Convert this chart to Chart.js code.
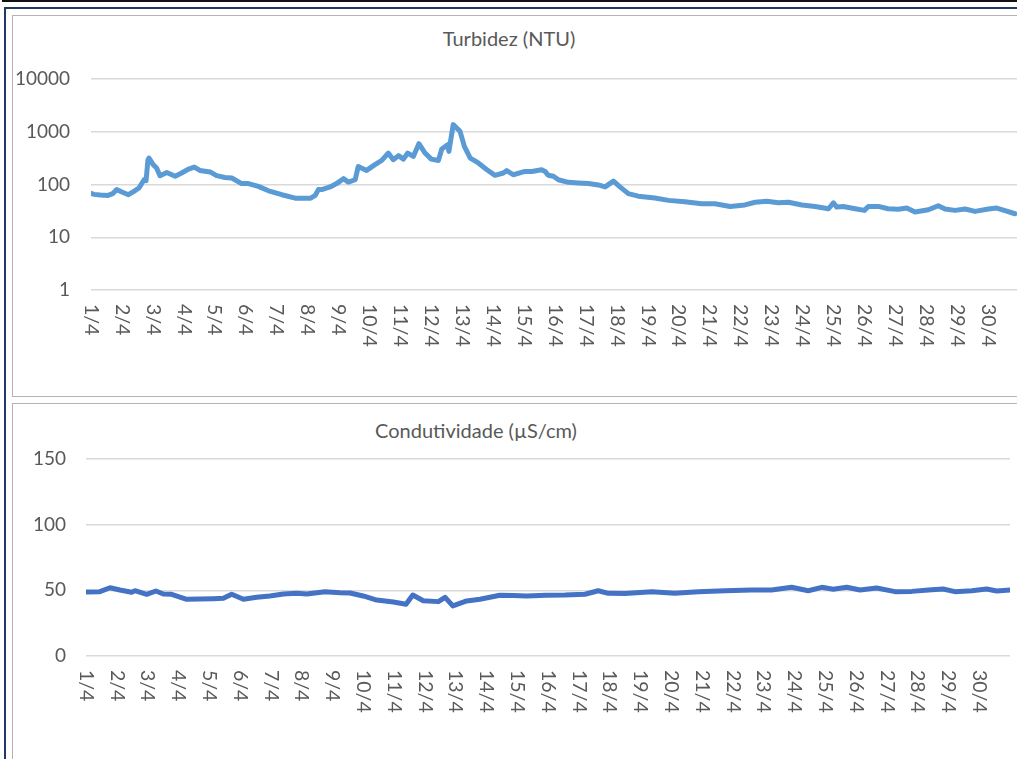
<!DOCTYPE html>
<html>
<head>
<meta charset="utf-8">
<script src="https://cdn.jsdelivr.net/npm/chart.js@4.4.0/dist/chart.umd.min.js"></script>
<style>
  body { margin: 0; width: 1017px; height: 759px; overflow: hidden; background: #fff; position: relative; font-family: Lato, sans-serif; }
  .line-black { position: absolute; left: 2px; top: 0; width: 1100px; height: 2px; background: #111; }
  .frame-navy { position: absolute; left: 4px; top: 7px; width: 1100px; height: 800px; border-top: 2px solid #1f3864; border-left: 2px solid #1f3864; }
  .box { position: absolute; border: 1px solid #b4b4b4; background: #fff; }
  .title { position: absolute; font-size: 20px; line-height: 22px; color: #595959; white-space: nowrap; transform: translateX(-50%); }
  canvas { position: absolute; }
</style>
</head>
<body>
<div class="line-black"></div>
<div class="frame-navy"></div>
<div class="box" style="left:12px; top:15px; width:1100px; height:380px;"></div>
<div class="box" style="left:12px; top:403px; width:1100px; height:400px;"></div>
<div class="title" style="left:509px; top:27px;">Turbidez (NTU)</div>
<div class="title" style="left:476px; top:419px;">Condutividade (µS/cm)</div>
<canvas id="turbChart" width="1013" height="382" style="left:12px; top:15px;"></canvas>
<canvas id="condChart" width="1004" height="356" style="left:12px; top:403px;"></canvas>
<script>
// day labels on the x axis (one per day, April)
const dayLabels = ["1/4","2/4","3/4","4/4","5/4","6/4","7/4","8/4","9/4","10/4",
  "11/4","12/4","13/4","14/4","15/4","16/4","17/4","18/4","19/4","20/4",
  "21/4","22/4","23/4","24/4","25/4","26/4","27/4","28/4","29/4","30/4"];

// Turbidez (NTU): time in days since 1/4 00:00, and value
const turbDays = [0, 0.1, 0.3, 0.55, 0.7, 0.83, 1.0, 1.21, 1.4, 1.55, 1.72, 1.78, 1.84, 1.875,
  2.01, 2.12, 2.23, 2.45, 2.72, 2.93, 3.15, 3.34, 3.52, 3.85, 4.06, 4.33, 4.55, 4.87,
  5.09, 5.41, 5.74, 6.17, 6.6, 6.92, 7.1, 7.25, 7.35, 7.46, 7.73, 7.94, 8.16, 8.32,
  8.54, 8.64, 8.91, 9.18, 9.4, 9.61, 9.77, 9.94, 10.1, 10.24, 10.42, 10.6, 10.8, 11.0,
  11.23, 11.34, 11.53, 11.57, 11.71, 11.93, 12.07, 12.26, 12.52, 12.8, 13.06, 13.33,
  13.44, 13.65, 14.03, 14.25, 14.57, 14.68, 14.78, 14.95, 15.11, 15.43, 15.75, 16.08,
  16.4, 16.62, 16.89, 17.1, 17.37, 17.69, 18.23, 18.67, 19.2, 19.74, 20.17, 20.66,
  21.14, 21.47, 21.85, 22.22, 22.55, 22.98, 23.41, 23.84, 24.0, 24.11, 24.32, 24.7,
  25.0, 25.13, 25.45, 25.77, 26.1, 26.37, 26.64, 27.07, 27.39, 27.61, 27.93, 28.26,
  28.58, 29.01, 29.28, 29.55, 29.87];
const turbValues = [68, 65, 63, 62, 67, 80, 72, 64, 75, 86, 124, 118, 290, 318,
  238, 205, 147, 169, 143, 165, 196, 214, 185, 173, 147, 136, 133, 104,
  104, 92, 76, 64, 55, 55, 55, 62, 80, 80, 90, 104, 129, 111,
  123, 220, 185, 238, 286, 395, 295, 352, 303, 395, 341, 594, 395, 303,
  286, 472, 569, 425, 1364, 1018, 529, 317, 256, 191, 149, 165,
  183, 153, 177, 177, 191, 177, 150, 143, 123, 110, 107, 104,
  98, 90, 116, 90, 67, 60, 55.5, 50, 47, 43, 43, 38.4,
  41, 46, 48, 45, 46, 41, 38.4, 34.7, 45, 37.3, 38.4, 34.7,
  32.3, 38.4, 38.4, 34.7, 34, 35.8, 30.1, 33.2, 39.6, 34.3, 32.3, 34.3,
  30.9, 34.3, 35.8, 32, 27.9];
const turbTicks = [1, 10, 100, 1000, 10000];

// Condutividade (µS/cm)
const condDays = [0.02, 0.45, 0.78, 1.1, 1.48, 1.59, 1.97, 2.27, 2.51, 2.78, 3.27, 3.7,
  4.13, 4.46, 4.73, 5.11, 5.54, 5.97, 6.41, 6.84, 7.17, 7.76, 8.25, 8.57, 9.0, 9.44,
  9.98, 10.39, 10.61, 10.95, 11.44, 11.66, 11.91, 12.36, 12.79, 13.44, 13.87, 14.31,
  14.93, 15.55, 16.2, 16.63, 16.96, 17.5, 18.37, 19.12, 19.88, 20.75, 21.61, 22.26,
  22.91, 23.45, 23.89, 24.26, 24.7, 25.13, 25.67, 26.27, 26.81, 27.35, 27.83, 28.21,
  28.76, 29.24, 29.57, 30.0];
const condValues = [48.7, 49.0, 52.0, 50.3, 48.5, 49.7, 47.0, 49.5, 47.2, 47.0, 43.2, 43.4,
  43.6, 43.9, 47.0, 43.2, 44.7, 45.7, 47.2, 47.7, 47.2, 49.0, 48.2, 48.0, 45.7, 42.6,
  41.1, 39.4, 46.4, 42.1, 41.4, 44.7, 38.1, 41.9, 43.2, 46.2, 46.0, 45.7,
  46.2, 46.4, 47.0, 49.7, 47.7, 47.5, 49.0, 47.7, 49.0, 49.7, 50.3, 50.3,
  52.3, 49.7, 52.3, 50.8, 52.3, 50.3, 51.8, 49.0, 49.2, 50.3, 51.0, 49.0,
  49.7, 51.0, 49.5, 50.3];
const condTicks = [0, 50, 100, 150];

const textColor = "#595959";
const gridColor = "#d9d9d9";
const tickFont = { family: "Lato", size: 19 };

// draws the day labels turned a quarter turn clockwise, like the original
const dayLabelPlugin = {
  id: "dayLabels",
  afterDraw(chart, args, opts) {
    const ctx = chart.ctx;
    const sx = chart.scales.x;
    ctx.save();
    ctx.font = "19.5px Lato";
    ctx.fillStyle = textColor;
    ctx.textAlign = "left";
    ctx.textBaseline = "middle";
    dayLabels.forEach((lab, i) => {
      ctx.save();
      ctx.translate(sx.getPixelForValue(i), chart.chartArea.bottom + opts.gap);
      ctx.rotate(Math.PI / 2);
      ctx.fillText(lab, 0, 0);
      ctx.restore();
    });
    ctx.restore();
  },
};

function makeChart(id, days, values, color, yScale, sizes) {
  const ctx = document.getElementById(id).getContext("2d");
  return new Chart(ctx, {
    type: "line",
    data: {
      datasets: [{
        data: days.map((d, i) => ({ x: d, y: values[i] })),
        borderColor: color,
        borderWidth: 5,
        pointRadius: 0,
        tension: 0,
        borderCapStyle: "round",
        borderJoinStyle: "round",
        fill: false,
      }],
    },
    options: {
      responsive: false,
      animation: false,
      devicePixelRatio: 1,
      layout: { padding: { top: sizes.top, right: 6, left: 0, bottom: 0 } },
      plugins: {
        legend: { display: false },
        tooltip: { enabled: false },
        dayLabels: { gap: 14 },
      },
      scales: {
        x: {
          type: "linear",
          min: 0,
          max: 30,
          ticks: { display: false },
          grid: { display: false },
          border: { display: false },
          afterFit: (s) => { s.height = sizes.xHeight; },
        },
        y: Object.assign({
          border: { display: false },
          grid: { color: gridColor, lineWidth: 1.5, drawTicks: false },
          afterFit: (s) => { s.width = sizes.yWidth; },
        }, yScale),
      },
    },
    plugins: [dayLabelPlugin],
  });
}

makeChart("turbChart", turbDays, turbValues, "#5B9BD5", {
  type: "logarithmic",
  min: 1,
  max: 10000,
  afterBuildTicks: (s) => { s.ticks = turbTicks.map((v) => ({ value: v })); },
  ticks: { padding: 21, color: textColor, font: tickFont, callback: (v) => String(v) },
}, { top: 64, xHeight: 107, yWidth: 79 });

makeChart("condChart", condDays, condValues, "#4472C4", {
  type: "linear",
  min: 0,
  max: 150,
  afterBuildTicks: (s) => { s.ticks = condTicks.map((v) => ({ value: v })); },
  ticks: { padding: 20, color: textColor, font: tickFont, callback: (v) => String(v) },
}, { top: 56, xHeight: 103, yWidth: 74 });
</script>
</body>
</html>
